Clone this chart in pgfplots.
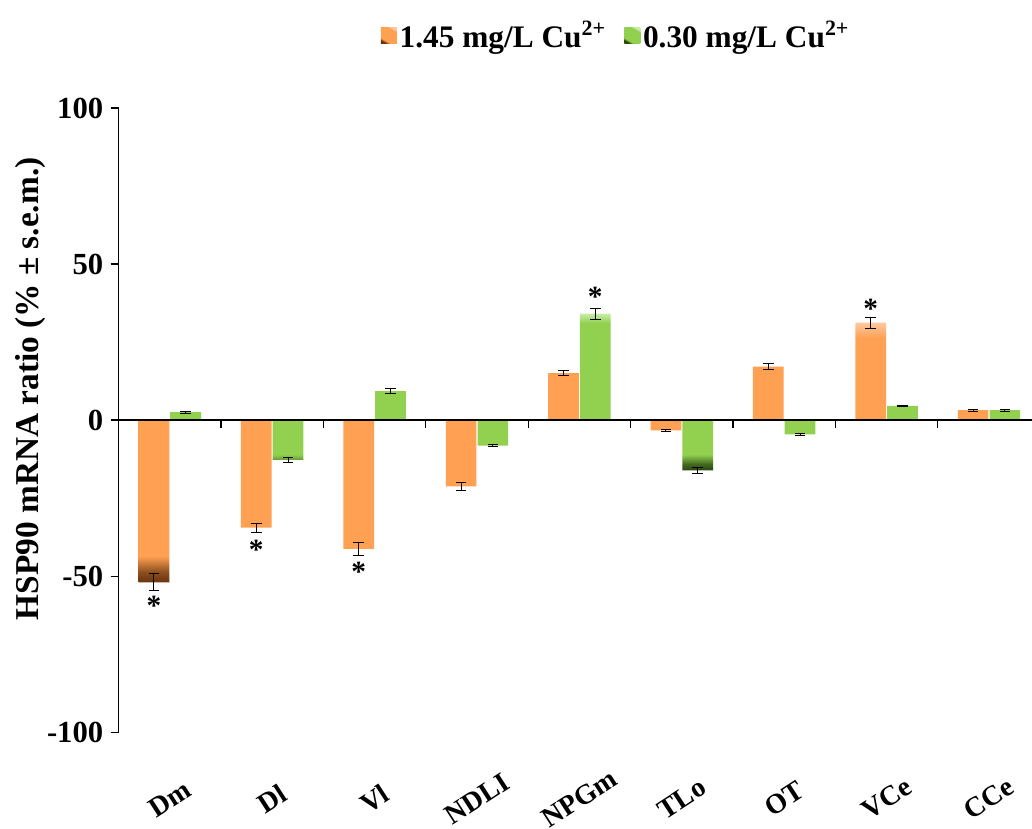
\documentclass[border=0pt]{standalone}
\usepackage{pgfplots}
\pgfplotsset{compat=1.18}
\usepackage{pgfplotstable}
\usepackage{fontspec}
\setmainfont{Liberation Serif}
\definecolor{orMain}{RGB}{255,160,82}
\definecolor{orDark}{RGB}{105,52,14}
\definecolor{orLight}{RGB}{255,200,160}
\definecolor{grMain}{RGB}{146,208,80}
\definecolor{grDark}{RGB}{40,70,16}
\definecolor{grLight}{RGB}{200,236,170}
\pgfdeclareverticalshading{orangebar}{100bp}{color(0bp)=(orDark); color(25bp)=(orDark); color(27bp)=(orDark!75!orMain); color(30bp)=(orMain); color(72bp)=(orMain); color(75bp)=(orLight); color(100bp)=(orLight)}
\pgfdeclareverticalshading{greenbar}{100bp}{color(0bp)=(grDark); color(25bp)=(grDark); color(27bp)=(grDark!75!grMain); color(30bp)=(grMain); color(72bp)=(grMain); color(75bp)=(grLight); color(100bp)=(grLight)}

\pgfplotstableread{
x y e
0.845 -52.0 2.7
1.845 -34.5 1.4
2.845 -41.3 2.0
3.845 -21.3 1.2
4.845 15.0 0.8
5.845 -3.3 0.3
6.845 17.1 0.9
7.845 31.2 1.7
8.845 3.2 0.3
}\orangedata
\pgfplotstableread{
x y e
1.155 2.5 0.3
2.155 -12.8 0.7
3.155 9.3 0.8
4.155 -8.2 0.4
5.155 34.1 1.8
6.155 -16.1 0.9
7.155 -4.6 0.3
8.155 4.5 0.3
9.155 3.2 0.3
}\greendata

\begin{document}
\begin{tikzpicture}
\begin{axis}[
  at={(0,0)}, anchor=south west,
  scale only axis, width=685pt, height=468pt,
  xmin=0.5, xmax=9.42, ymin=-100, ymax=100,
  axis y line=left, axis x line*=bottom,
  axis line style={-, black, line width=0.8pt},
  x axis line style={draw=none},
  xtick={1,...,9},
  xticklabels={Dm,Dl,Vl,NDLI,NPGm,TLo,OT,VCe,CCe},
  major x tick style={draw=none},
  ytick={-100,-50,0,50,100},
  yticklabels={-100,-50,0,50,100},
  tick align=outside, major tick length=6pt,
  ytick style={black, line width=0.8pt},
  yticklabel style={font=\fontsize{23}{26}\selectfont\bfseries, xshift=-2pt},
  xticklabel style={font=\fontsize{21}{25}\selectfont\bfseries, anchor=center, yshift=-44pt, rotate=33},
  ylabel={HSP90 mRNA ratio (\% ± s.e.m.)},
  ylabel style={font=\fontsize{25}{29}\selectfont\bfseries, at={(axis description cs:-0.097,0.55)}, anchor=center},
  legend style={at={(axis description cs:0.545,1.116)}, anchor=center, draw=none, fill=none,
    legend columns=2, font=\fontsize{23.5}{27}\selectfont\bfseries,
    /tikz/every even column/.append style={column sep=12pt},
    inner sep=0pt},
  ybar, bar width=0.3,
  clip=false,
]
\addplot[bar shift=0pt, draw=none, shading=orangebar,
  legend image code/.code={\shade[shading=orangebar, shading angle=-30] (0pt,-6pt) rectangle (12pt,6pt);}]
  table[x=x, y=y] {\orangedata};
\addlegendentry{1.45 mg/L Cu\textsuperscript{2+}}
\addplot[bar shift=0pt, draw=none, shading=greenbar,
  legend image code/.code={\shade[shading=greenbar, shading angle=-30] (0pt,-6pt) rectangle (12pt,6pt);}]
  table[x=x, y=y] {\greendata};
\addlegendentry{0.30 mg/L Cu\textsuperscript{2+}}
\addplot[bar shift=0pt, draw=none, fill=none, forget plot,
  error bars/.cd, y dir=both, y explicit,
  error bar style={black, line width=0.7pt},
  error mark options={rotate=90, mark size=4pt, black, line width=0.7pt}]
  table[x=x, y=y, y error=e] {\orangedata};
\addplot[bar shift=0pt, draw=none, fill=none, forget plot,
  error bars/.cd, y dir=both, y explicit,
  error bar style={black, line width=0.7pt},
  error mark options={rotate=90, mark size=4pt, black, line width=0.7pt}]
  table[x=x, y=y, y error=e] {\greendata};
\draw[black, line width=0.9pt] (axis cs:0.5,0) -- (axis cs:9.42,0);
\draw[black, line width=0.9pt] (axis cs:1.5,0) -- ++(0pt,-6pt);
\draw[black, line width=0.9pt] (axis cs:2.5,0) -- ++(0pt,-6pt);
\draw[black, line width=0.9pt] (axis cs:3.5,0) -- ++(0pt,-6pt);
\draw[black, line width=0.9pt] (axis cs:4.5,0) -- ++(0pt,-6pt);
\draw[black, line width=0.9pt] (axis cs:5.5,0) -- ++(0pt,-6pt);
\draw[black, line width=0.9pt] (axis cs:6.5,0) -- ++(0pt,-6pt);
\draw[black, line width=0.9pt] (axis cs:7.5,0) -- ++(0pt,-6pt);
\draw[black, line width=0.9pt] (axis cs:8.5,0) -- ++(0pt,-6pt);
\node[font=\fontsize{22}{26}\selectfont\bfseries] at (axis cs:0.845,-59.5) {*};
\node[font=\fontsize{22}{26}\selectfont\bfseries] at (axis cs:1.845,-41.5) {*};
\node[font=\fontsize{22}{26}\selectfont\bfseries] at (axis cs:2.845,-48.5) {*};
\node[font=\fontsize{22}{26}\selectfont\bfseries] at (axis cs:5.155,39.5) {*};
\node[font=\fontsize{22}{26}\selectfont\bfseries] at (axis cs:7.845,35.5) {*};
\end{axis}
\pgfresetboundingbox
\path[use as bounding box] (-88.95pt,-72pt) rectangle (685pt,549pt);
\end{tikzpicture}
\end{document}
